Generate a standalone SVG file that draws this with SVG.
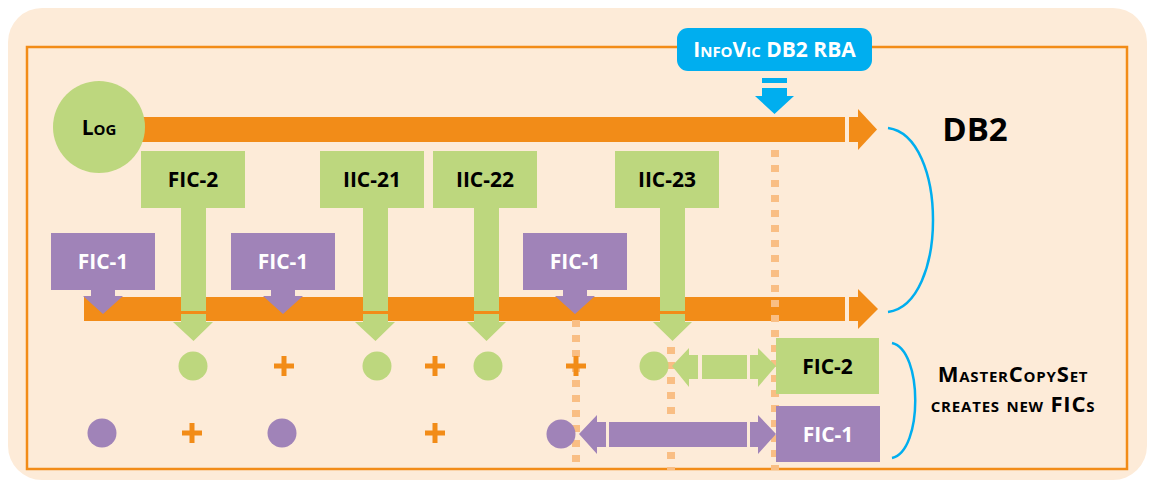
<svg xmlns="http://www.w3.org/2000/svg" width="1150" height="483" viewBox="0 0 1150 483">
<style>
.t{font-family:"Open Sans","Noto Sans",sans-serif;font-weight:700;text-anchor:middle}
.lb{font-size:21px}
.sc{font-variant:small-caps}
.g{fill:#BDD77E}
.p{fill:#A083B8}
.o{fill:#F28C18}
.dot{stroke:#F9BE84;stroke-width:8;stroke-dasharray:7 8;fill:none}
.br{stroke:#00AEEF;stroke-width:2.5;fill:none}
</style>
<defs>
<path id="plus" d="M-10,-2.5H-2.5V-10H2.5V-2.5H10V2.5H2.5V10H-2.5V2.5H-10Z" fill="#F28C18"/>
</defs>
<rect x="8" y="8" width="1139" height="472" rx="34" fill="#FDEBD8"/>
<rect x="27" y="47" width="1100" height="422" fill="none" stroke="#F28C18" stroke-width="2.5"/>

<g id="connectors">
<rect class="o" x="140" y="117" width="705" height="25"/>
<rect class="o" x="849" y="117" width="9" height="25"/>
<polygon class="o" points="858,109 877,129.5 858,150"/>
<rect class="o" x="84" y="297" width="761" height="24"/>
<rect class="o" x="849" y="297" width="9" height="24"/>
<polygon class="o" points="858,289 878,309 858,329"/>
<line class="dot" x1="775" y1="150" x2="775" y2="470"/>
<line class="dot" x1="576" y1="320" x2="576" y2="470"/>
<line class="dot" x1="671" y1="347" x2="671" y2="470"/>
</g>

<g id="infovic">
<rect x="677" y="28" width="195" height="43" rx="11" fill="#00AEEF"/>
<text class="t sc" x="774.5" y="57" font-size="21" fill="#fff">InfoVic DB2 RBA</text>
<rect x="762" y="78" width="25" height="5" fill="#00AEEF"/>
<polygon points="762,88 787,88 787,96 794,96 774.5,114 755,96 762,96" fill="#00AEEF"/>
</g>

<g id="log">
<circle cx="99" cy="127" r="46" class="g"/>
<text class="t sc" x="99" y="135" font-size="21" fill="#000">Log</text>
</g>

<g id="fic2-top">
<rect class="g" x="141" y="151" width="104" height="57"/>
<text class="t lb" x="193" y="187" fill="#000">FIC-2</text>
<rect class="g" x="181" y="208" width="25" height="103"/>
<polygon class="g" points="181,314 206,314 206,322 213,322 193.5,341 173,322 181,322"/>
</g>
<g id="iic21">
<rect class="g" x="320" y="151" width="104" height="57"/>
<text class="t lb" x="372" y="187" fill="#000">IIC-21</text>
<rect class="g" x="363" y="208" width="25" height="103"/>
<polygon class="g" points="363,314 388,314 388,322 395,322 375.5,341 355,322 363,322"/>
</g>
<g id="iic22">
<rect class="g" x="433" y="151" width="104" height="57"/>
<text class="t lb" x="485" y="187" fill="#000">IIC-22</text>
<rect class="g" x="474" y="208" width="25" height="103"/>
<polygon class="g" points="474,314 499,314 499,322 506,322 486.5,341 467,322 474,322"/>
</g>
<g id="iic23">
<rect class="g" x="615" y="151" width="104" height="57"/>
<text class="t lb" x="667" y="187" fill="#000">IIC-23</text>
<rect class="g" x="660" y="208" width="25" height="103"/>
<polygon class="g" points="660,314 685,314 685,322 692,322 672.5,341 653,322 660,322"/>
</g>

<g id="fic1-a">
<rect class="p" x="51" y="233" width="104" height="57"/>
<text class="t lb" x="103" y="269" fill="#fff">FIC-1</text>
<polygon class="p" points="91,290 115,290 115,296 123,296 103,314 83,296 91,296"/>
</g>
<g id="fic1-b">
<rect class="p" x="231" y="233" width="104" height="57"/>
<text class="t lb" x="283" y="269" fill="#fff">FIC-1</text>
<polygon class="p" points="271,290 295,290 295,296 303,296 283,314 263,296 271,296"/>
</g>
<g id="fic1-c">
<rect class="p" x="523" y="233" width="104" height="57"/>
<text class="t lb" x="575" y="269" fill="#fff">FIC-1</text>
<polygon class="p" points="563,290 587,290 587,296 595,296 575,314 555,296 563,296"/>
</g>

<g id="green-row">
<circle class="g" cx="193" cy="366" r="14.5"/>
<use href="#plus" x="284" y="366"/>
<circle class="g" cx="377" cy="366" r="14.5"/>
<use href="#plus" x="435" y="366"/>
<circle class="g" cx="488" cy="366" r="14.5"/>
<use href="#plus" x="576" y="366"/>
<circle class="g" cx="654" cy="366" r="14.5"/>
</g>
<g id="purple-row">
<circle class="p" cx="102" cy="433" r="14.5"/>
<use href="#plus" x="192" y="433"/>
<circle class="p" cx="282" cy="433" r="14.5"/>
<use href="#plus" x="435" y="433"/>
<circle class="p" cx="561" cy="434" r="14.5"/>
</g>

<g id="green-double-arrow">
<polygon class="g" points="672,366 689,348 689,355 698,355 698,379 689,379 689,387"/>
<rect class="g" x="702" y="355" width="45" height="24"/>
<polygon class="g" points="776,366 758,348 758,355 750,355 750,379 758,379 758,387"/>
</g>
<g id="purple-double-arrow">
<polygon class="p" points="579,434 597,415 597,422 606,422 606,447 597,447 597,454"/>
<rect class="p" x="609" y="422" width="138" height="25"/>
<polygon class="p" points="776,434 758,415 758,422 750,422 750,447 758,447 758,454"/>
</g>

<g id="fic2-new">
<rect class="g" x="776" y="338" width="103" height="56"/>
<text class="t lb" x="827.5" y="374" fill="#000">FIC-2</text>
</g>
<g id="fic1-new">
<rect class="p" x="776" y="406" width="104" height="56"/>
<text class="t lb" x="828" y="442" fill="#fff">FIC-1</text>
</g>

<g id="db2-brace">
<path class="br" d="M888,128 C948,136 948,304 888,312"/>
<text class="t" x="975" y="141" font-size="33" fill="#000">DB2</text>
</g>
<g id="mcs-brace">
<path class="br" d="M892,343 C923,350 923,451 892,458"/>
<text class="t sc" x="1013" y="382" font-size="22" letter-spacing="0.8" fill="#000">MasterCopySet</text>
<text class="t sc" x="1013" y="412" font-size="22" letter-spacing="0.8" fill="#000">creates new FICs</text>
</g>
</svg>
